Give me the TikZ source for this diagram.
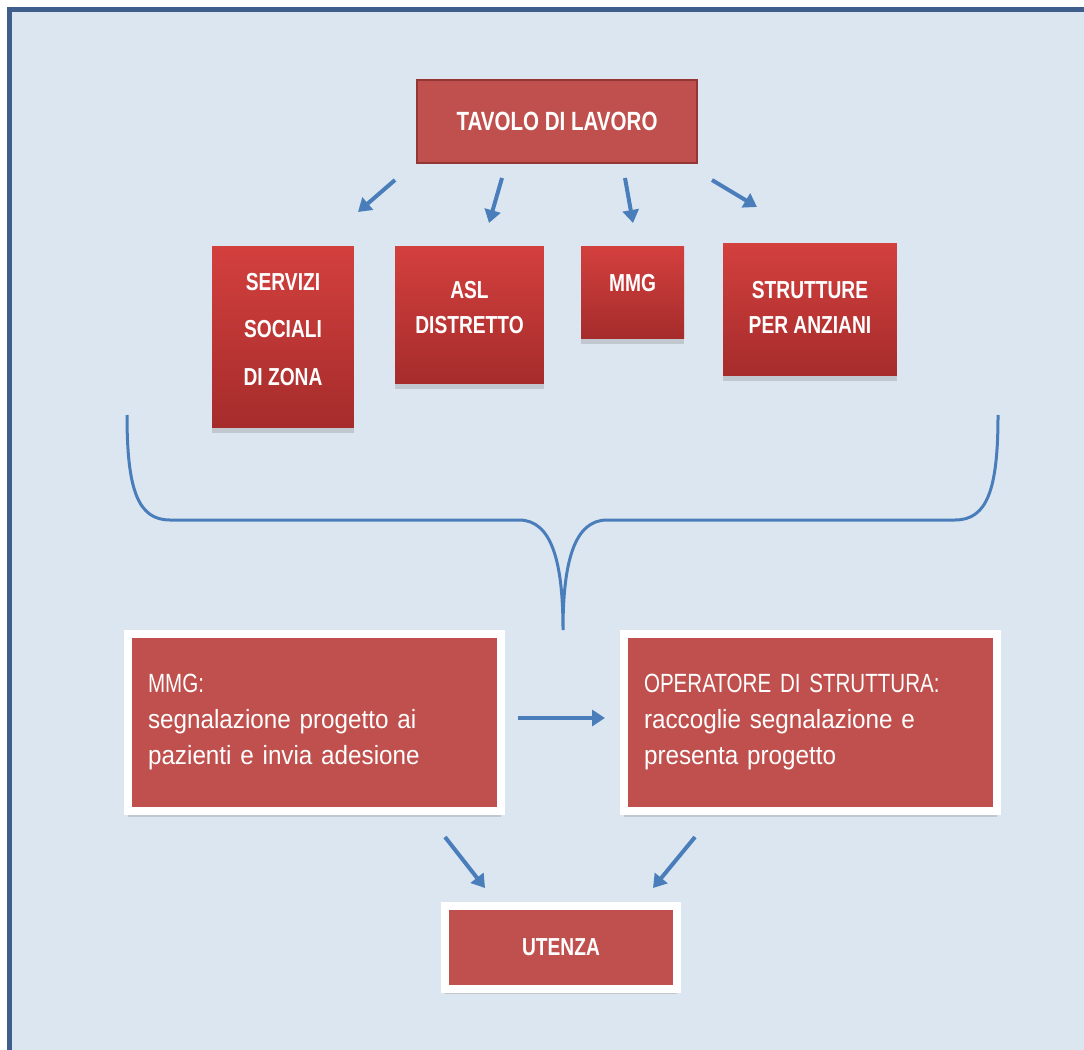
\documentclass[tikz,border=0pt]{standalone}
\usepackage{fontspec}
\setmainfont{Liberation Sans}
\newfontfamily\strettofont{Liberation Sans}[FakeStretch=0.78]
\newfontfamily\testofont{Liberation Sans}[FakeStretch=0.92]
\usetikzlibrary{positioning,arrows.meta,shadows}
\definecolor{sfondo}{HTML}{DCE6F1}
\definecolor{cornice}{HTML}{3F5E8C}
\definecolor{blufreccia}{HTML}{4A7EBB}
\definecolor{rosso}{HTML}{C0504D}
\definecolor{rossobordo}{HTML}{943634}
\definecolor{rossochiaro}{HTML}{D3403E}
\definecolor{rossoscuro}{HTML}{A52C2B}

\begin{document}
\begin{tikzpicture}[x=0.02cm,y=-0.02cm,
    ente/.style={rectangle,top color=rossochiaro,bottom color=rossoscuro,
      drop shadow={shadow xshift=0pt,shadow yshift=-3pt,opacity=0.3}},
    nomeente/.style={text=white,align=center,inner sep=0pt,font=\strettofont\bfseries\fontsize{14}{20}\selectfont},
    fase/.style={rectangle,fill=rosso,draw=white,line width=0.16cm,inner xsep=0.4cm,
      text=white,align=left,text width=6.66cm,minimum height=3.56cm,
      font=\testofont\fontsize{15}{20.5}\selectfont,
      drop shadow={shadow xshift=0pt,shadow yshift=-3pt,opacity=0.3}},
    freccia/.style={blufreccia,line width=0.08cm,-{Triangle[length=0.26cm,width=0.32cm]}}]
  \useasboundingbox (0,0) rectangle (1084,1050);
  \fill[white] (0,0) rectangle (1084,1050);
  \fill[sfondo] (9,9) rectangle (1084,1050);
  \draw[cornice,line width=0.11cm] (9.5,1050) -- (9.5,9.5) -- (1084,9.5);

  \node[rectangle,fill=rosso,draw=rossobordo,line width=1.2pt,minimum width=5.6cm,minimum height=1.66cm,
    text=white,font=\strettofont\bfseries\fontsize{15}{18}\selectfont] (tavolo) at (557,121.5) {TAVOLO DI LAVORO};

  \node[ente,minimum width=2.84cm,minimum height=3.64cm] (servizi) at (283,337) {};
  \node[ente,minimum width=2.98cm,minimum height=2.76cm] (asl) at (469.5,315) {};
  \node[ente,minimum width=2.06cm,minimum height=1.86cm] (mmg) at (632.5,292.5) {};
  \node[ente,minimum width=3.48cm,minimum height=2.66cm] (strutture) at (810,309.5) {};
  \node[nomeente,font=\strettofont\bfseries\fontsize{14}{27}\selectfont,below=0.54cm of servizi.north] (tservizi) {SERVIZI\\SOCIALI\\DI ZONA};
  \node[nomeente,below=0.7cm of asl.north] (tasl) {ASL\\DISTRETTO};
  \node[nomeente,below=0.56cm of mmg.north] (tmmg) {MMG};
  \node[nomeente,below=0.76cm of strutture.north] (tstrutture) {STRUTTURE\\PER ANZIANI};

  \coordinate (p1) at (395,180); \coordinate (q1) at (358,212);
  \coordinate (p2) at (502,178); \coordinate (q2) at (489,223);
  \coordinate (p3) at (625,178); \coordinate (q3) at (633,223);
  \coordinate (p4) at (712,180); \coordinate (q4) at (757,207);
  \foreach \i in {1,...,4}
    \draw[freccia] (p\i) -- (q\i);

  % graffa
  \draw[freccia,-,line width=0.06cm] (127,415) .. controls (127,490) and (138,520) .. (170,520) -- (519,520)
    .. controls (551,520) and (563,560) .. (563,630)
    .. controls (563,560) and (575,520) .. (607,520) -- (955,520)
    .. controls (987,520) and (998,490) .. (998,415);

  \node[fase] (segnala) at (314.5,722.5) {{\strettofont MMG:}\\segnalazione progetto ai\\pazienti e invia adesione};
  \node[fase] (operatore) at (810.5,722.5) {{\strettofont OPERATORE DI STRUTTURA:}\\raccoglie segnalazione e\\presenta progetto};
  \node[fase,text width=,align=center,minimum width=4.63cm,minimum height=1.66cm,
    font=\strettofont\bfseries\fontsize{14}{18}\selectfont] (utenza) at (561,947) {UTENZA};

  \coordinate (h1) at (518,718); \coordinate (h2) at (605,718);
  \draw[freccia] (h1) -- (h2);
  \coordinate (u1) at (445,837); \coordinate (v1) at (485,888);
  \coordinate (u2) at (695,837); \coordinate (v2) at (653,888);
  \draw[freccia] (u1) -- (v1);
  \draw[freccia] (u2) -- (v2);
\end{tikzpicture}
\end{document}
